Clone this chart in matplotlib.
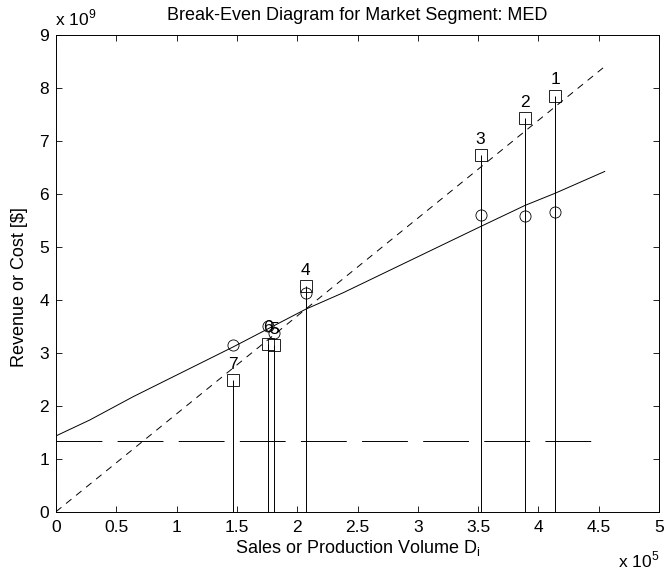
import matplotlib
matplotlib.use('Agg')
import matplotlib.pyplot as plt

plt.rcParams['font.family'] = ['Liberation Sans', 'DejaVu Sans']
plt.rcParams['lines.scale_dashes'] = False

# sales volume D_i in units of 1e5, revenue / cost in units of 1e9 $
labels = ['1', '2', '3', '4', '5', '6', '7']
volume = [4.14, 3.89, 3.52, 2.07, 1.81, 1.76, 1.47]
revenue = [7.85, 7.42, 6.73, 4.25, 3.14, 3.17, 2.48]
cost = [5.66, 5.58, 5.60, 4.13, 3.37, 3.50, 3.15]

# total cost curve and revenue line across the volume range
cost_curve_x = [0.0, 0.28, 0.64, 1.47, 2.07, 2.38, 3.52, 3.89, 4.14, 4.55]
cost_curve_y = [1.43, 1.73, 2.17, 3.11, 3.82, 4.13, 5.38, 5.78, 6.01, 6.42]
revenue_line_x = [0.0, 4.55]
revenue_line_y = [0.0, 8.40]
fixed_cost = 1.33
fixed_cost_x = [0.0, 4.45]

fig = plt.figure(figsize=(6.66, 5.71), dpi=100)
ax = fig.add_axes([0.0841, 0.1039, 0.9054, 0.8353])

ax.plot(cost_curve_x, cost_curve_y, color='k', lw=0.7)
ax.plot(revenue_line_x, revenue_line_y, color='k', lw=0.7, dashes=(5, 4.3))
ax.plot(fixed_cost_x, [fixed_cost, fixed_cost], color='k', lw=0.7, dashes=(33, 11))

ax.vlines(volume, 0, revenue, color='k', lw=0.7)
ax.plot(volume, revenue, 's', ms=8, mfc='none', mec='k', mew=0.6)
ax.plot(volume, cost, 'o', ms=8, mfc='none', mec='k', mew=0.6)
for lab, x, y in zip(labels, volume, revenue):
    ax.annotate(lab, (x, y), xytext=(0, 11.5), textcoords='offset points',
                ha='center', va='center', fontsize=12.5)

ax.set_xlim(0, 5)
ax.set_ylim(0, 9)
ax.set_xticks([0, 0.5, 1, 1.5, 2, 2.5, 3, 3.5, 4, 4.5, 5])
ax.set_xticklabels(['0', '0.5', '1', '1.5', '2', '2.5', '3', '3.5', '4', '4.5', '5'])
ax.set_yticks(range(10))
ax.tick_params(direction='in', length=4.3, width=0.6, top=True, right=True,
               labelsize=12.5)
ax.tick_params(axis='x', pad=6)
ax.tick_params(axis='y', pad=5)
for s in ax.spines.values():
    s.set_linewidth(0.7)

ax.set_title('Break-Even Diagram for Market Segment: MED', fontsize=13, pad=10.5)
ax.set_xlabel('Sales or Production Volume D$_\\mathregular{i}$', fontsize=13, labelpad=2)
ax.set_ylabel('Revenue or Cost [$]', fontsize=13)
ax.yaxis.set_label_coords(-0.046, 0.47)

fig.text(0.0826, 0.956, 'x 10$^\\mathregular{9}$', fontsize=12.5, ha='left', va='baseline')
fig.text(0.9895, 0.007, 'x 10$^\\mathregular{5}$', fontsize=12.5, ha='right', va='baseline')

fig.savefig('out.png', dpi=100)
plt.close(fig)
